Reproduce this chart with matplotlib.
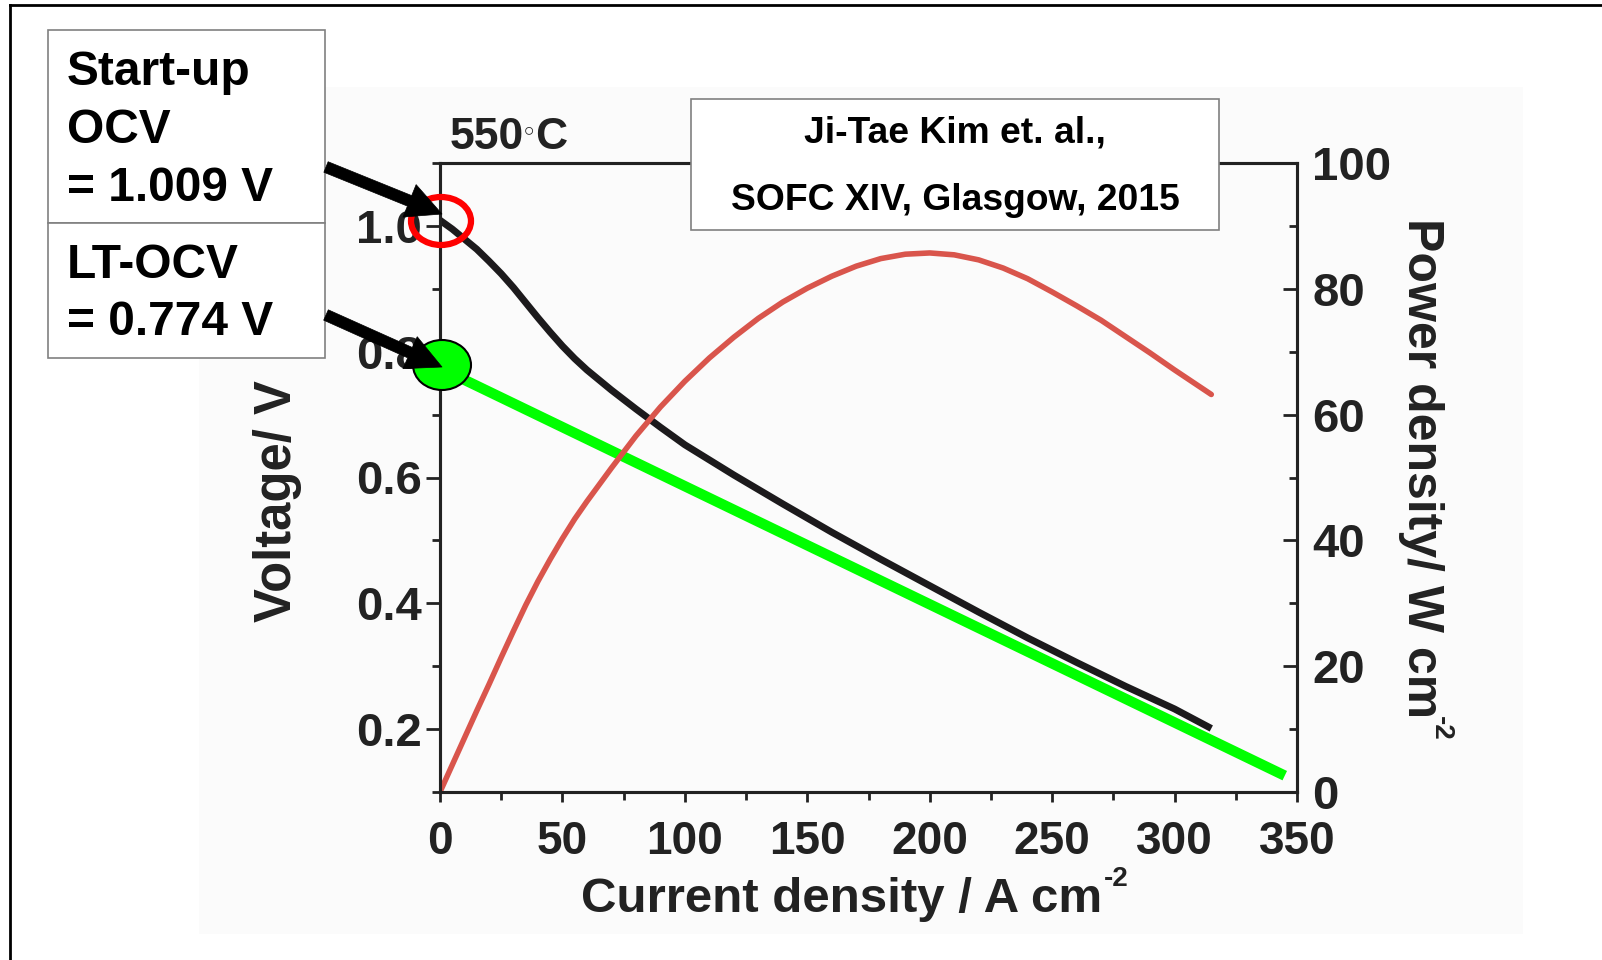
"""Start-up OCV vs LT-OCV annotated over the 550 C I-V / power curve."""

import matplotlib

matplotlib.use("Agg")
import matplotlib.pyplot as plt
from matplotlib.patches import Ellipse, Rectangle, FancyArrowPatch
from matplotlib.ticker import MultipleLocator
from matplotlib.transforms import IdentityTransform

plt.rcParams["font.family"] = ["Liberation Sans", "DejaVu Sans"]
plt.rcParams["font.weight"] = "bold"

# values
current_v = [0, 5, 10, 15, 20, 25, 30, 35, 40, 45, 50, 55, 60, 70, 80, 90,
             100, 120, 140, 160, 180, 200, 220, 240, 260, 280, 300, 315]
voltage = [1.009, 0.995, 0.979, 0.963, 0.944, 0.924, 0.902, 0.878, 0.854,
           0.831, 0.809, 0.789, 0.771, 0.739, 0.709, 0.680, 0.652, 0.604,
           0.558, 0.513, 0.470, 0.428, 0.386, 0.345, 0.306, 0.268, 0.232,
           0.201]

current_p = [0, 5, 10, 15, 20, 25, 30, 35, 40, 45, 50, 55, 60, 70, 80, 90,
             100, 110, 120, 130, 140, 150, 160, 170, 180, 190, 200, 210, 220,
             230, 240, 250, 260, 270, 280, 290, 300, 310, 315]
power = [0, 4.3, 8.6, 12.9, 17.1, 21.4, 25.6, 29.7, 33.5, 37.0, 40.3, 43.4,
         46.2, 51.5, 56.6, 61.2, 65.3, 69.0, 72.3, 75.3, 77.9, 80.1, 82.0,
         83.6, 84.8, 85.5, 85.7, 85.4, 84.6, 83.3, 81.6, 79.5, 77.3, 75.0,
         72.4, 69.8, 67.1, 64.5, 63.2]

# straight green line drawn from LT-OCV point
lt_current = [0, 345]
lt_voltage = [0.774, 0.126]

startup_text = "Start-up\nOCV\n= 1.009 V"
lt_text = "LT-OCV\n= 0.774 V"
ref_lines = ["Ji-Tae Kim et. al.,", "SOFC XIV, Glasgow, 2015"]

W, H = 1602, 960
fig = plt.figure(figsize=(W / 100, H / 100), dpi=100)


def fx(x):
    return x / W


def fy(y):
    return 1 - y / H


ink = "#222222"

# faint scanned page behind the plot
fig.add_artist(Rectangle((fx(199), fy(934)), fx(1523) - fx(199), fy(87) - fy(934),
                         transform=fig.transFigure, facecolor="#fbfbfb",
                         edgecolor="none", zorder=-5))

ax = fig.add_axes([fx(440), fy(792), fx(1297) - fx(440), fy(163) - fy(792)])
ax.set_facecolor("none")
ax2 = ax.twinx()

ax.plot(current_v, voltage, color="#1c1a1c", lw=5, solid_capstyle="butt",
        solid_joinstyle="round", zorder=3)
ax.plot(lt_current, lt_voltage, color="#00ff00", lw=7.5, solid_capstyle="butt", zorder=4)
ax2.plot(current_p, power, color="#d9554c", lw=4, solid_capstyle="round",
         solid_joinstyle="round")

ax.set_xlim(0, 350)
ax.set_ylim(0.1, 1.1)
ax2.set_ylim(0, 100)

ax.xaxis.set_major_locator(MultipleLocator(50))
ax.xaxis.set_minor_locator(MultipleLocator(25))
ax.yaxis.set_minor_locator(MultipleLocator(0.1))
ax.set_yticks([0.2, 0.4, 0.6, 0.8, 1.0])
ax.set_yticklabels(["0.2", "0.4", "0.6", "0.8", "1.0"])
ax2.yaxis.set_major_locator(MultipleLocator(20))
ax2.yaxis.set_minor_locator(MultipleLocator(10))

for a in (ax, ax2):
    for s in a.spines.values():
        s.set_linewidth(2.2)
        s.set_color(ink)

ax.tick_params(axis="x", which="major", direction="out", length=7, width=2,
               labelsize=33, pad=13, colors=ink)
ax.tick_params(axis="x", which="minor", direction="out", length=6, width=2, colors=ink)
ax.tick_params(axis="y", which="major", direction="out", length=10, width=2,
               labelsize=34, pad=3, colors=ink)
ax.tick_params(axis="y", which="minor", direction="out", length=6, width=2, colors=ink)
ax2.tick_params(axis="y", which="major", direction="in", length=10, width=2,
                labelsize=34, pad=11, colors=ink)
ax2.tick_params(axis="y", which="minor", direction="in", length=6, width=2, colors=ink)

ax.set_xlabel("Current density / A cm", fontsize=35.5, fontweight="bold", color=ink)
ax.xaxis.label.set_va("baseline")
ax.xaxis.set_label_coords(0.468, -0.19)
ax.set_ylabel("Voltage/ V", fontsize=36.5, fontweight="bold", color=ink)
ax.yaxis.label.set_va("center")
ax.yaxis.set_label_coords(-0.19, 0.462)
ax2.set_ylabel("Power density/ W cm", fontsize=36, fontweight="bold", color=ink,
               rotation=270, va="center")
ax2.yaxis.set_label_coords(1.145, 0.515)

fig.text(fx(450), fy(149), "550", fontsize=32, color=ink, va="baseline", ha="left")
fig.text(fx(522), fy(138), "\u25e6", fontsize=16, color=ink, va="baseline", ha="left",
         family=["DejaVu Sans"])
fig.text(fx(535), fy(149), "C", fontsize=32, color=ink, va="baseline", ha="left")

# annotation boxes
box_edge = "#808080"
fig.add_artist(Rectangle((fx(48), fy(223)), fx(325) - fx(48), fy(30) - fy(223),
                         transform=fig.transFigure, facecolor="white",
                         edgecolor=box_edge, lw=1.2, zorder=2))
fig.add_artist(Rectangle((fx(48), fy(358)), fx(325) - fx(48), fy(223) - fy(358),
                         transform=fig.transFigure, facecolor="white",
                         edgecolor=box_edge, lw=1.2, zorder=2))
fig.add_artist(Rectangle((fx(691), fy(230)), fx(1219) - fx(691), fy(99) - fy(230),
                         transform=fig.transFigure, facecolor="white",
                         edgecolor=box_edge, lw=1.2, zorder=2))

for line, base in zip(startup_text.split("\n"), [85, 143, 201]):
    fig.text(fx(67), fy(base), line, fontsize=34.5, fontweight="bold",
             va="baseline", ha="left", zorder=3)
for line, base in zip(lt_text.split("\n"), [278, 335]):
    fig.text(fx(67), fy(base), line, fontsize=34.5, fontweight="bold",
             va="baseline", ha="left", zorder=3)
for line, base in zip(ref_lines, [143, 210]):
    fig.text(fx(955), fy(base), line, fontsize=26.8, fontweight="bold",
             va="baseline", ha="center", zorder=3)

# red circle on start-up OCV, green dot on LT-OCV
fig.add_artist(Ellipse((fx(441), fy(221)), fx(60), 48 / H, transform=fig.transFigure,
                       facecolor="none", edgecolor="#ff0000", lw=4.5, zorder=5))
fig.add_artist(Ellipse((fx(442), fy(365)), fx(58), 50 / H, transform=fig.transFigure,
                       facecolor="#00ff00", edgecolor="black", lw=1.5, zorder=5))

for tail, tip in [((326, 167), (442, 214)), ((326, 315), (442, 367))]:
    fig.add_artist(FancyArrowPatch((fx(tail[0]), fy(tail[1])), (fx(tip[0]), fy(tip[1])),
                                   transform=fig.transFigure,
                                   arrowstyle="simple,head_length=1.05,head_width=1.05,tail_width=0.34",
                                   mutation_scale=24, facecolor="black",
                                   edgecolor="black", lw=0.5, shrinkA=0, shrinkB=0,
                                   zorder=6))

# slide frame (left and top edges)
fig.add_artist(plt.Line2D([fx(10), fx(10)], [fy(5), 0], transform=fig.transFigure,
                          color="black", lw=2))
fig.add_artist(plt.Line2D([fx(10), 1], [fy(5), fy(5)], transform=fig.transFigure,
                          color="black", lw=2))

# "-2" superscripts placed after the labels are laid out
fig.canvas.draw()
renderer = fig.canvas.get_renderer()
xb = ax.xaxis.label.get_window_extent(renderer)
fig.text(xb.x1 + 2, xb.y1 - 2, "-2", fontsize=20, color=ink, ha="left", va="center",
         transform=IdentityTransform())
yb = ax2.yaxis.label.get_window_extent(renderer)
fig.text(yb.x1 + 10, yb.y0 + 2, "-2", fontsize=20, color=ink, rotation=270,
         ha="right", va="top", transform=IdentityTransform())

fig.savefig("out.png", dpi=100, facecolor="white")
plt.close(fig)
